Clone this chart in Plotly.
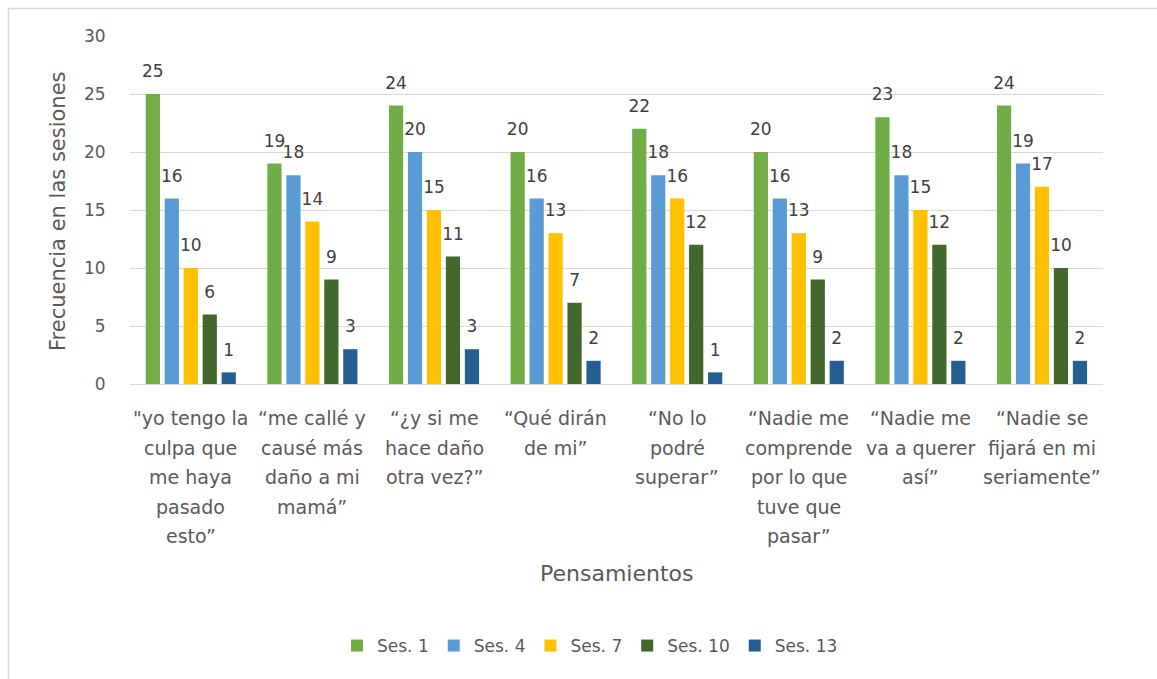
import plotly.graph_objects as go

categories = [
    ["\"yo tengo la", "culpa que", "me haya", "pasado", "esto\u201d"],
    ["\u201cme callé y", "causé más", "daño a mi", "mamá\u201d"],
    ["\u201c¿y si me", "hace daño", "otra vez?\u201d"],
    ["\u201cQué dirán", "de mi\u201d"],
    ["\u201cNo lo", "podré", "superar\u201d"],
    ["\u201cNadie me", "comprende", "por lo que", "tuve que", "pasar\u201d"],
    ["\u201cNadie me", "va a querer", "así\u201d"],
    ["\u201cNadie se", "fijará en mi", "seriamente\u201d"],
]
cat_keys = ["c%d" % i for i in range(len(categories))]

series_names = ["Ses. 1", "Ses. 4", "Ses. 7", "Ses. 10", "Ses. 13"]
ses1 = [25, 19, 24, 20, 22, 20, 23, 24]
ses4 = [16, 18, 20, 16, 18, 16, 18, 19]
ses7 = [10, 14, 15, 13, 16, 13, 15, 17]
ses10 = [6, 9, 11, 7, 12, 9, 12, 10]
ses13 = [1, 3, 3, 2, 1, 2, 2, 2]
series_values = [ses1, ses4, ses7, ses10, ses13]
colors = ["#70AD47", "#5B9BD5", "#FFC000", "#43682B", "#255E91"]

y_ticks = [0, 5, 10, 15, 20, 25, 30]

W, H = 1157, 679
L, R, T, B = 130, 54, 36, 295
PW, PH = W - L - R, H - T - B

def px_to_paper_x(px):
    return (px - L) / PW

def px_to_paper_y(py):
    return (H - B - py) / PH

FONT = "DejaVu Sans"
GRAY = "#595959"

fig = go.Figure()
for name, vals, col in zip(series_names, series_values, colors):
    labels = ["<span style='font-size:17px'>%d</span><br>"
              "<span style='font-size:9px'>\u00a0</span>" % v for v in vals]
    fig.add_trace(go.Bar(
        x=cat_keys, y=vals, name=name,
        marker=dict(color=col, line=dict(width=0)),
        text=labels, textposition="outside",
        constraintext="none", cliponaxis=False,
        textfont=dict(family=FONT, size=9, color="#404040"),
        hoverinfo="x+y+name",
    ))

annotations = []
line_gap = 29.5
first_line = 418
for key, lines in zip(cat_keys, categories):
    for i, ln in enumerate(lines):
        annotations.append(dict(
            x=key, xref="x", y=px_to_paper_y(first_line + i * line_gap), yref="paper",
            text=ln, showarrow=False, xanchor="center", yanchor="middle",
            font=dict(family=FONT, size=19, color=GRAY),
        ))
annotations.append(dict(
    x=0.5, xref="paper", y=px_to_paper_y(573), yref="paper",
    text="Pensamientos", showarrow=False, xanchor="center", yanchor="middle",
    font=dict(family=FONT, size=22, color=GRAY),
))
annotations.append(dict(
    x=px_to_paper_x(58), xref="paper", y=px_to_paper_y(211), yref="paper",
    text="Frecuencia en las sesiones", showarrow=False, textangle=-90,
    xanchor="center", yanchor="middle",
    font=dict(family=FONT, size=21, color=GRAY),
))

fig.update_layout(
    width=W, height=H,
    margin=dict(l=L, r=R, t=T, b=B, pad=0),
    paper_bgcolor="white", plot_bgcolor="white",
    barmode="group", bargap=0.22, bargroupgap=0.25,
    showlegend=True,
    legend=dict(orientation="h", x=px_to_paper_x(590), xanchor="center",
                y=px_to_paper_y(646), yanchor="middle",
                font=dict(family=FONT, size=17, color=GRAY),
                itemwidth=30, tracegroupgap=0),
    annotations=annotations,
    shapes=[dict(type="rect", xref="paper", yref="paper",
                 x0=px_to_paper_x(8.5), x1=px_to_paper_x(1200),
                 y0=px_to_paper_y(720), y1=px_to_paper_y(8.5),
                 line=dict(color="#D9D9D9", width=1.5), layer="below")],
)
fig.update_xaxes(showticklabels=False, showgrid=False, zeroline=False,
                 showline=True, linecolor="#D9D9D9", linewidth=1, ticks="")
fig.update_yaxes(range=[0, 30], tickvals=y_ticks, showgrid=True, gridcolor="#D9D9D9",
                 gridwidth=1, zeroline=False, showline=False,
                 ticks="outside", ticklen=20, tickcolor="rgba(0,0,0,0)",
                 tickfont=dict(family=FONT, size=17, color=GRAY))

fig.write_html("out.html")
